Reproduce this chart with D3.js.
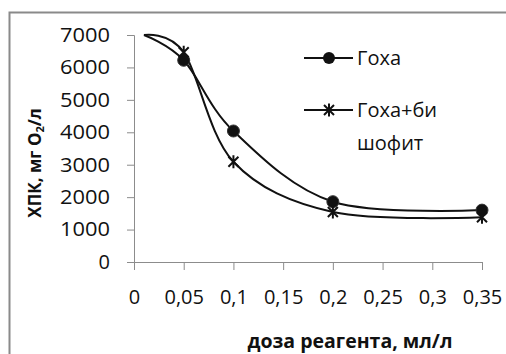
<!DOCTYPE html>
<html>
<head>
<meta charset="utf-8">
<script src="https://cdn.jsdelivr.net/npm/d3@7"></script>
<style>
  html, body { margin: 0; padding: 0; background: #fff; }
  svg { display: block; }
  text { font-family: "Open Sans", "Noto Sans", sans-serif; fill: #111; }
</style>
</head>
<body>
<svg id="chart" width="506" height="354"></svg>
<script>
// Doses of reagent, ml/l
const doses = [0.01, 0.05, 0.1, 0.2, 0.35];
// COD values, mg O2/l
const goxa = [7000, 6220, 4040, 1860, 1600];
const goxaBischofite = [7000, 6470, 3090, 1540, 1380];
const seriesNames = ["Гоха", "Гоха+бишофит"];
const xTicks = [0, 0.05, 0.1, 0.15, 0.2, 0.25, 0.3, 0.35];
const yTicks = [0, 1000, 2000, 3000, 4000, 5000, 6000, 7000];

const svg = d3.select("#chart");

// outer frame
svg.append("rect")
  .attr("x", 9.5).attr("y", 12.5)
  .attr("width", 520).attr("height", 360)
  .attr("fill", "#fff").attr("stroke", "#8a8a8a").attr("stroke-width", 2);

const x = d3.scaleLinear().domain([0, 0.35]).range([134, 482]);
const y = d3.scaleLinear().domain([0, 7000]).range([262, 35]);

const fmt = d => String(d).replace(".", ",");

// y axis
const yAxis = svg.append("g").attr("transform", "translate(134,0)")
  .call(d3.axisLeft(y).tickValues(yTicks).tickSize(7).tickPadding(17).tickFormat(d => d));
// x axis
const xAxis = svg.append("g").attr("transform", "translate(0,262)")
  .call(d3.axisBottom(x).tickValues(xTicks).tickSize(8).tickPadding(20).tickFormat(fmt));

[yAxis, xAxis].forEach(a => {
  a.select(".domain").attr("stroke", "#8c8c8c");
  a.selectAll(".tick line").attr("stroke", "#8c8c8c");
  a.selectAll(".tick text").attr("font-size", 20).attr("fill", "#111")
    .attr("font-family", "'Open Sans', sans-serif");
});
yAxis.selectAll(".tick text").attr("textLength", 50).attr("lengthAdjust", "spacingAndGlyphs")
  .filter(d => d === 0).attr("textLength", null);

const line = d3.line()
  .x(d => x(d[0])).y(d => y(d[1]))
  .curve(d3.curveCardinal.tension(0));

const dataA = doses.map((d, i) => [d, goxa[i]]);
const dataB = doses.map((d, i) => [d, goxaBischofite[i]]);

svg.append("path").datum(dataA).attr("d", line)
  .attr("fill", "none").attr("stroke", "#111").attr("stroke-width", 2);
svg.append("path").datum(dataB).attr("d", line)
  .attr("fill", "none").attr("stroke", "#111").attr("stroke-width", 2);

// star (asterisk) marker
function star(g, cx, cy, r) {
  const p = `M${cx - r},${cy - r}L${cx + r},${cy + r}M${cx - r},${cy + r}L${cx + r},${cy - r}M${cx},${cy - r * 1.3}L${cx},${cy + r * 1.3}`;
  g.append("path").attr("d", p).attr("stroke", "#111").attr("stroke-width", 2).attr("fill", "none");
}

// markers (the first point of each curve has none)
dataA.slice(1).forEach(d => {
  svg.append("circle").attr("cx", x(d[0])).attr("cy", y(d[1])).attr("r", 6)
    .attr("fill", "#111").attr("stroke", "#333").attr("stroke-width", 1);
});
dataB.slice(1).forEach(d => star(svg, x(d[0]), y(d[1]), 5));

// legend
const leg = svg.append("g");
leg.append("line").attr("x1", 304).attr("x2", 353).attr("y1", 58).attr("y2", 58)
  .attr("stroke", "#111").attr("stroke-width", 2);
leg.append("circle").attr("cx", 329).attr("cy", 58).attr("r", 6).attr("fill", "#111");
leg.append("text").attr("x", 357).attr("y", 65).attr("font-size", 20).text(seriesNames[0]);

leg.append("line").attr("x1", 304).attr("x2", 353).attr("y1", 110).attr("y2", 110)
  .attr("stroke", "#111").attr("stroke-width", 2);
star(leg, 329, 110, 5);
leg.append("text").attr("x", 357).attr("y", 117).attr("font-size", 20).text("Гоха+би");
leg.append("text").attr("x", 357).attr("y", 150).attr("font-size", 20).text("шофит");

// axis titles
svg.append("text")
  .attr("x", 350).attr("y", 348).attr("text-anchor", "middle")
  .attr("font-size", 19.5).attr("font-weight", "bold")
  .text("доза реагента, мл/л");

const yt = svg.append("text")
  .attr("transform", "translate(41,163) rotate(-90)")
  .attr("text-anchor", "middle")
  .attr("font-size", 17).attr("font-weight", "bold");
yt.append("tspan").text("ХПК, мг O");
yt.append("tspan").attr("font-size", 11).attr("dy", 3).text("2");
yt.append("tspan").attr("dy", -3).text("/л");
</script>
</body>
</html>
